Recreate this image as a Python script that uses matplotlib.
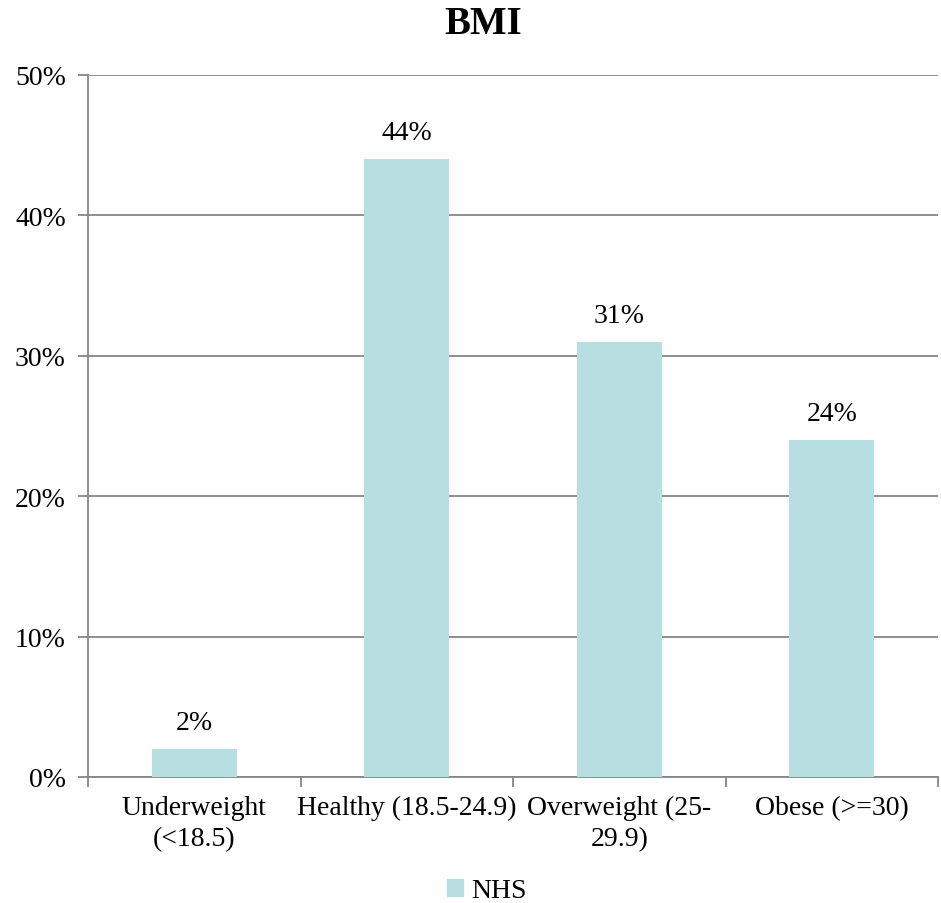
import matplotlib
matplotlib.use("Agg")
import matplotlib.pyplot as plt
from matplotlib.patches import Patch

categories = ["Underweight\n(<18.5)", "Healthy (18.5-24.9)", "Overweight (25-\n29.9)", "Obese (>=30)"]
values = [2, 44, 31, 24]
series_name = "NHS"
yticks = [0, 10, 20, 30, 40, 50]

plt.rcParams["font.family"] = ["Liberation Serif", "DejaVu Serif"]
BAR = "#B7DFE2"
GRID = "#868686"
FS = 20

fig = plt.figure(figsize=(9.41, 9.04), dpi=100)
ax = fig.add_axes([88 / 941, 1 - 778 / 904, 850 / 941, 702 / 904])

x = list(range(len(categories)))
bars = ax.bar(x, values, width=0.4, color=BAR, zorder=3)
for b, v in zip(bars, values):
    ax.annotate(f"{v}%", (b.get_x() + b.get_width() / 2, v), xytext=(0, 10),
                textcoords="offset points", ha="center", va="bottom", fontsize=FS)

ax.set_xlim(-0.5, len(categories) - 0.5)
ax.set_ylim(0, 50)
ax.set_yticks(yticks)
ax.set_yticklabels([f"{t}%" for t in yticks], fontsize=FS)
ax.yaxis.grid(True, color=GRID, linewidth=1.3, zorder=0)
ax.tick_params(axis="y", length=7, width=1.3, color=GRID, pad=9)

# category boundaries as ticks, labels centred under bars
ax.set_xticks([i - 0.5 for i in range(len(categories) + 1)])
ax.set_xticklabels([])
ax.set_xticks(x, minor=True)
ax.set_xticklabels(categories, minor=True, fontsize=FS, linespacing=1.3)
ax.tick_params(axis="x", which="major", length=7, width=1.3, color=GRID, direction="out")
ax.tick_params(axis="x", which="minor", length=0, pad=13)

for s in ["top", "right"]:
    ax.spines[s].set_visible(False)
for s in ["left", "bottom"]:
    ax.spines[s].set_color(GRID)
    ax.spines[s].set_linewidth(1.3)

fig.text(483 / 941, 1 - 24 / 904, "BMI", ha="center", va="center",
         fontsize=28, fontweight="bold")
fig.legend(handles=[Patch(color=BAR, label=series_name)], loc="center",
           bbox_to_anchor=(487 / 941, 1 - 892 / 904), frameon=False,
           fontsize=FS, handlelength=0.55, handleheight=0.55, handletextpad=0.3)

fig.savefig("out.png", dpi=100)
